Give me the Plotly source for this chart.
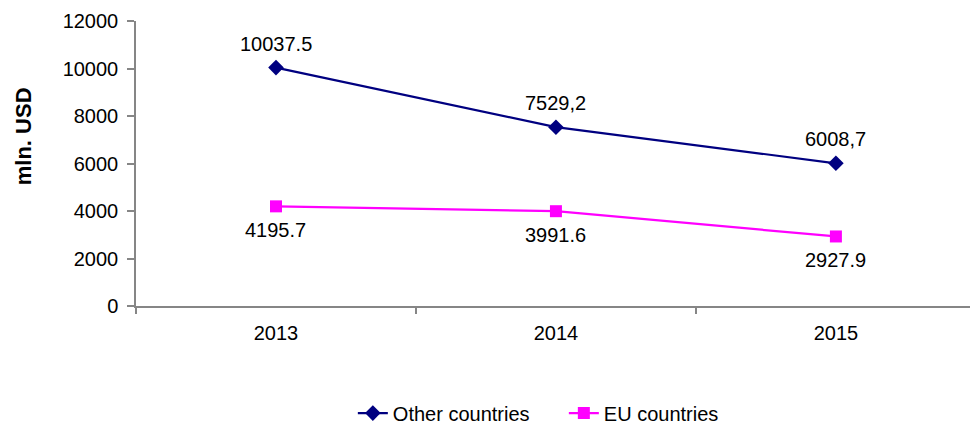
import plotly.graph_objects as go

years = ["2013", "2014", "2015"]
other_countries = [10037.5, 7529.2, 6008.7]
eu_countries = [4195.7, 3991.6, 2927.9]
# decimal separator used in each printed value label
other_sep = [".", ",", ","]
eu_sep = [".", ".", "."]
y_ticks = [0, 2000, 4000, 6000, 8000, 10000, 12000]

FONT = "Liberation Sans, Arial, sans-serif"
FS = 20
NAVY = "#000080"
MAGENTA = "#FF00FF"
AXIS = "#868686"


def fmt(v, sep):
    return f"{v:.1f}".replace(".", sep)


fig = go.Figure()
fig.add_trace(go.Scatter(
    x=years, y=other_countries, name="Other countries", mode="lines+markers",
    line=dict(color=NAVY, width=2.2),
    marker=dict(symbol="diamond", size=12, color=NAVY),
))
fig.add_trace(go.Scatter(
    x=years, y=eu_countries, name="EU countries", mode="lines+markers",
    line=dict(color=MAGENTA, width=2.2),
    marker=dict(symbol="square", size=12, color=MAGENTA),
))

for i, (v, s) in enumerate(zip(other_countries, other_sep)):
    fig.add_annotation(xref="x", yref="y", x=i, y=v, text=fmt(v, s),
                       showarrow=False, yanchor="middle", yshift=24,
                       font=dict(family=FONT, size=FS, color="black"))
for i, (v, s) in enumerate(zip(eu_countries, eu_sep)):
    fig.add_annotation(xref="x", yref="y", x=i, y=v, text=fmt(v, s),
                       showarrow=False, yanchor="middle", yshift=-24,
                       font=dict(family=FONT, size=FS, color="black"))

# y-axis caption, placed a little above the plot's vertical centre
fig.add_annotation(xref="paper", yref="paper", x=-0.135, y=0.597,
                   text="<b>mln. USD</b>", textangle=-90, showarrow=False,
                   xanchor="center", yanchor="middle",
                   font=dict(family=FONT, size=22, color="black"))

fig.update_layout(
    width=970, height=425,
    margin=dict(l=136, r=0, t=21, b=119, autoexpand=False),
    paper_bgcolor="white", plot_bgcolor="white",
    font=dict(family=FONT, size=FS, color="black"),
    showlegend=True,
    legend=dict(orientation="h", x=0.513, xanchor="center",
                yref="container", y=0.028, yanchor="middle",
                entrywidth=166, entrywidthmode="pixels",
                font=dict(family=FONT, size=FS),
                bgcolor="rgba(0,0,0,0)"),
)
fig.update_xaxes(
    type="category", range=[-0.5, 2.479], tickson="boundaries",
    showline=True, linecolor=AXIS, linewidth=1.5,
    ticks="outside", ticklen=6, tickcolor=AXIS, tickwidth=1.5,
    showgrid=False, zeroline=False, ticklabelstandoff=8,
)
fig.update_yaxes(
    range=[0, 12000], tickvals=y_ticks, ticktext=[str(t) for t in y_ticks],
    showline=True, linecolor=AXIS, linewidth=1.5,
    ticks="outside", ticklen=7, tickcolor=AXIS, tickwidth=1.5,
    showgrid=False, zeroline=False, ticklabelstandoff=5,
)

fig.write_html("out.html")
